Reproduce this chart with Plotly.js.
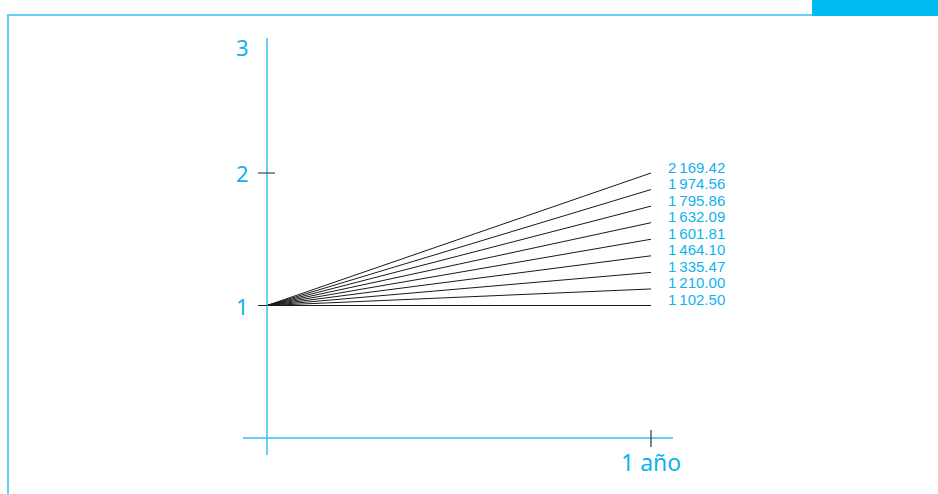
<!DOCTYPE html>
<html>
<head>
<meta charset="utf-8">
<script src="https://cdn.plot.ly/plotly-3.0.1.min.js"></script>
<style>html,body{margin:0;padding:0;background:#fff;}#chart{width:938px;height:494px;}</style>
</head>
<body>
<div id="chart"></div>
<script>
// Data
const startValue = 1;
const endValues = [1.0, 1.125, 1.25, 1.375, 1.5, 1.625, 1.75, 1.875, 2.0];
const endLabels = ["1\u2009102.50", "1\u2009210.00", "1\u2009335.47", "1\u2009464.10", "1\u2009601.81",
                   "1\u2009632.09", "1\u2009795.86", "1\u2009974.56", "2\u2009169.42"];
const xStart = 0, xEnd = 1;
const yTickVals = [1, 2, 3];
const yTickText = ["1", "2", "3"];
const xTickVals = [1];
const xTickText = ["1 año"];

const CYAN = "#10b2ee";
const AXIS = "#36c1f0";

const traces = endValues.map((v, i) => ({
  type: "scatter", mode: "lines",
  x: [xStart, xEnd], y: [startValue, v],
  line: {color: "#1a1a1a", width: 1},
  hoverinfo: "skip", showlegend: false
}));

const annotations = [];
endValues.forEach((v, i) => {
  annotations.push({x: xEnd, y: v, xref: "x", yref: "y", text: endLabels[i], showarrow: false,
    xanchor: "left", yanchor: "middle", xshift: 15, yshift: 6,
    font: {family: "Liberation Sans, Arial, sans-serif", size: 15, color: CYAN}});
});
yTickVals.forEach((v, i) => {
  annotations.push({x: 0, y: v, xref: "x", yref: "y", text: yTickText[i], showarrow: false,
    xanchor: "center", yanchor: "middle", xshift: -25, yshift: v === 3 ? -6 : 0,
    font: {family: "Noto Sans, sans-serif", size: 22, color: CYAN}});
});
xTickVals.forEach((v, i) => {
  annotations.push({x: v, y: 0, xref: "x", yref: "y", text: xTickText[i], showarrow: false,
    xanchor: "center", yanchor: "middle", yshift: -24,
    font: {family: "Noto Sans, sans-serif", size: 23, color: CYAN}});
});

const W = 938, H = 494;
const px = p => p / W, py = p => 1 - p / H;
const shapes = [
  // page frame
  {type: "line", xref: "paper", yref: "paper", x0: px(7), x1: px(812), y0: py(15), y1: py(15), line: {color: AXIS, width: 1.5}},
  {type: "line", xref: "paper", yref: "paper", x0: px(8), x1: px(8), y0: py(15), y1: py(494), line: {color: AXIS, width: 1.5}},
  {type: "rect", xref: "paper", yref: "paper", x0: px(812), x1: 1, y0: py(16), y1: 1, fillcolor: "#00bbf0", line: {width: 0}},
  // axes
  {type: "line", xref: "x", yref: "y", xsizemode: "pixel", xanchor: 0, x0: 0, x1: 0, ysizemode: "pixel", yanchor: 0, y0: -17, y1: 400, line: {color: AXIS, width: 1.5}},
  {type: "line", xref: "x", yref: "y", xsizemode: "pixel", xanchor: 0, x0: -24, x1: 406, ysizemode: "pixel", yanchor: 0, y0: 0, y1: 0, line: {color: AXIS, width: 1.5}},
  // ticks
  {type: "line", xref: "x", yref: "y", xsizemode: "pixel", xanchor: 0, x0: -9, x1: 8, y0: 2, y1: 2, line: {color: "#222", width: 1}},
  {type: "line", xref: "x", yref: "y", xsizemode: "pixel", xanchor: 0, x0: -9, x1: 0, y0: 1, y1: 1, line: {color: "#222", width: 1}},
  {type: "line", xref: "x", yref: "y", x0: 1, x1: 1, ysizemode: "pixel", yanchor: 0, y0: -9, y1: 8, line: {color: "#333", width: 1.2}}
];

const layout = {
  width: W, height: H,
  margin: {l: 0, r: 0, t: 0, b: 0},
  paper_bgcolor: "#fff", plot_bgcolor: "#fff",
  xaxis: {range: [-267/384, (938-267)/384], visible: false, fixedrange: true},
  yaxis: {range: [-(494-438)/132.5, 438/132.5], visible: false, fixedrange: true},
  shapes: shapes, annotations: annotations, showlegend: false
};
Plotly.newPlot("chart", traces, layout, {staticPlot: true, displayModeBar: false});
</script>
</body>
</html>
